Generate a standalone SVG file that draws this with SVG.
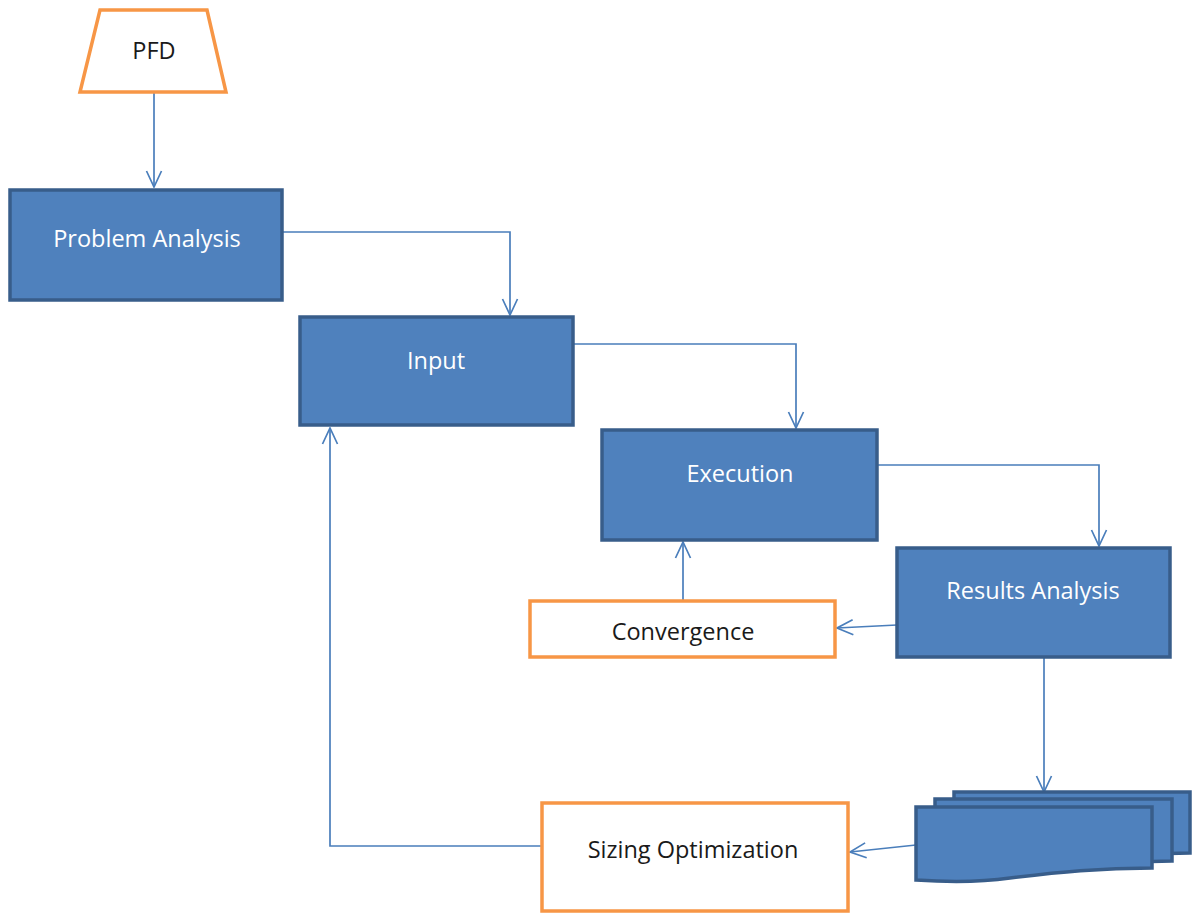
<svg xmlns="http://www.w3.org/2000/svg" width="1196" height="913" viewBox="0 0 1196 913">
<defs>
<marker id="arr" viewBox="0 0 18 18" refX="17" refY="9" markerWidth="18" markerHeight="18" markerUnits="userSpaceOnUse" orient="auto">
<path d="M1,1.5 L17,9 L1,16.5" fill="none" stroke="#4A7EBB" stroke-width="1.7"/>
</marker>
<style>
.blue{fill:#4F81BD;stroke:#385D8A;stroke-width:3.5}
.orange{fill:#FFFFFF;stroke:#F79646;stroke-width:3.5}
.tw{fill:#FFFFFF;font-family:"Open Sans","Liberation Sans",sans-serif;font-size:23.5px;text-anchor:middle}
.tb{fill:#1A1A1A;font-family:"Open Sans","Liberation Sans",sans-serif;font-size:23.5px;text-anchor:middle}
.c{fill:none;stroke:#4A7EBB;stroke-width:1.7;marker-end:url(#arr)}
</style>
</defs>
<rect width="1196" height="913" fill="#FFFFFF"/>
<g id="connectors">
<path class="c" d="M154,92 V187"/>
<path class="c" d="M282,232 H510 V315"/>
<path class="c" d="M573,344 H796 V428"/>
<path class="c" d="M877,465 H1099 V546"/>
<path class="c" d="M897,625 L837,628"/>
<path class="c" d="M683,601 V542"/>
<path class="c" d="M1044,657 V792"/>
<path class="c" d="M916,845 L850,852"/>
<path class="c" d="M542,846 H330 V428"/>
</g>
<g id="pfd">
<polygon class="orange" points="100,10 207,10 226,92 80,92"/>
<text class="tb" x="154" y="59">PFD</text>
</g>
<g id="problem-analysis">
<rect class="blue" x="10" y="190" width="272" height="110"/>
<text class="tw" x="147" y="247">Problem Analysis</text>
</g>
<g id="input">
<rect class="blue" x="300" y="317" width="273" height="108"/>
<text class="tw" x="436" y="369">Input</text>
</g>
<g id="execution">
<rect class="blue" x="602" y="430" width="275" height="110"/>
<text class="tw" x="740" y="482">Execution</text>
</g>
<g id="results-analysis">
<rect class="blue" x="897" y="548" width="273" height="109"/>
<text class="tw" x="1033" y="599">Results Analysis</text>
</g>
<g id="convergence">
<rect class="orange" x="530" y="601" width="305" height="56"/>
<text class="tb" x="683" y="640">Convergence</text>
</g>
<g id="documents">
<path class="blue" d="M954,792 H1190 V853 C1140,853 1100,858 1060,866 L954,866 Z"/>
<path class="blue" d="M935,799 H1172 V861 C1122,861 1082,866 1042,873 L935,873 Z"/>
<path class="blue" d="M916,807 H1152 V868 C1100,868 1060,872 1010,878 C975,883 945,882 916,880 Z"/>
</g>
<g id="sizing-optimization">
<rect class="orange" x="542" y="803" width="306" height="108"/>
<text class="tb" x="693" y="858">Sizing Optimization</text>
</g>
</svg>
